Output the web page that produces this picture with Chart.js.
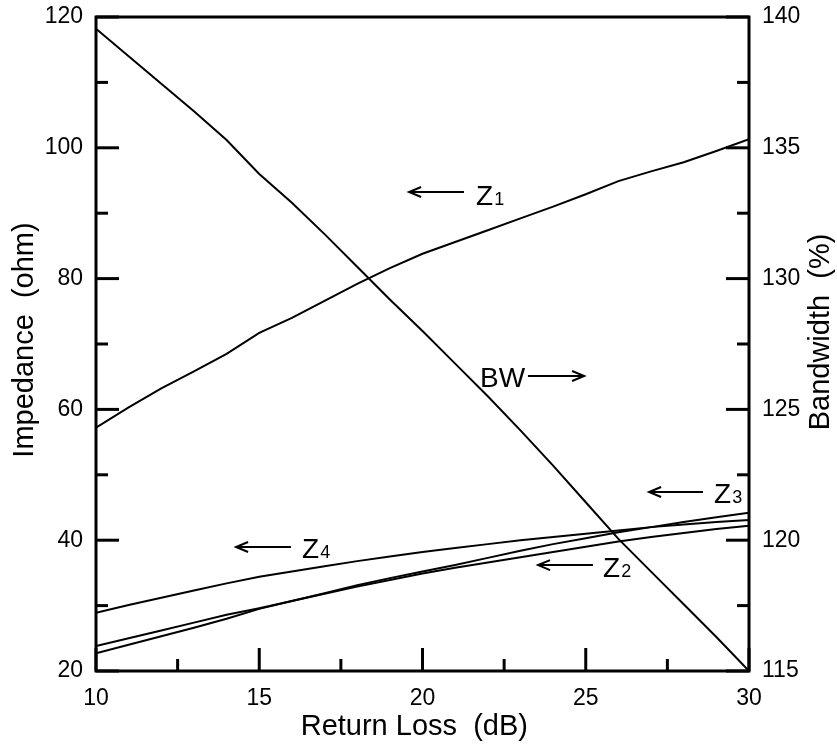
<!DOCTYPE html>
<html><head><meta charset="utf-8">
<script src="https://cdn.jsdelivr.net/npm/chart.js@4.4.0/dist/chart.umd.min.js"></script>
<style>html,body{margin:0;padding:0;background:#fff}#wrap{width:837px;height:747px}</style>
</head><body><div id="wrap"><canvas id="c" width="837" height="747"></canvas></div>
<script>
const returnLoss = [10,11,12,13,14,15,16,17,18,19,20,21,22,23,24,25,26,27,28,29,30];
const bandwidth  = [139.55,138.5,137.45,136.4,135.3,134.0,132.9,131.7,130.45,129.2,128.0,126.75,125.5,124.2,122.85,121.45,120.05,118.8,117.55,116.3,115.0];
const z1 = [57.2,60.3,63.2,65.8,68.5,71.7,74.0,76.6,79.2,81.6,83.8,85.6,87.4,89.2,91.0,92.9,94.9,96.4,97.8,99.5,101.3];
const z2 = [23.8,25.0,26.2,27.4,28.6,29.6,30.7,31.8,32.9,33.9,34.9,35.8,36.6,37.4,38.2,39.0,39.8,40.5,41.1,41.7,42.2];
const z3 = [22.7,24.0,25.3,26.6,28.0,29.5,30.7,31.9,33.1,34.2,35.2,36.2,37.3,38.4,39.4,40.3,41.2,42.0,42.8,43.5,44.2];
const z4 = [28.9,30.1,31.2,32.3,33.4,34.4,35.2,36.0,36.8,37.5,38.2,38.8,39.4,40.0,40.5,41.0,41.5,42.0,42.4,42.8,43.1];

const xMajorTicks = [10,15,20,25,30];
const xMinorTicks = [12.5,17.5,22.5,27.5];
const leftMajorTicks = [20,40,60,80,100,120];
const leftMinorTicks = [30,50,70,90,110];
const rightMajorTicks = [115,120,125,130,135,140];
const rightMinorTicks = [117.5,122.5,127.5,132.5,137.5];

const xTitle = 'Return Loss  (dB)';
const leftTitle = 'Impedance  (ohm)';
const rightTitle = 'Bandwidth  (%)';

// annotation labels: text, subscript, text anchor (x, y on left axis), arrow from (x1) to head (x2) at ay
const labels = [
  {text:'Z', sub:'1', tx:21.64, ty:91.25, ax1:21.27, ax2:19.59, ay:93.24},
  {text:'BW', sub:'', tx:21.76, ty:63.4, ax1:23.23, ax2:24.95, ay:65.1},
  {text:'Z', sub:'3', tx:28.93, ty:45.7, ax1:28.59, ax2:26.94, ay:47.37},
  {text:'Z', sub:'2', tx:25.53, ty:34.4, ax1:25.22, ax2:23.54, ay:36.2},
  {text:'Z', sub:'4', tx:16.31, ty:37.3, ax1:15.97, ax2:14.29, ay:38.96}
];

const FONT = "'Liberation Sans', Arial, Helvetica, sans-serif";
Chart.defaults.font.family = FONT;
Chart.defaults.color = '#000';

const pts = arr => returnLoss.map((x,i)=>({x:x, y:arr[i]}));
const ds = (arr, axis) => ({data: pts(arr), yAxisID: axis, borderColor:'#000', borderWidth:2, pointRadius:0, tension:0, fill:false});

const decor = {
  id:'decor',
  afterDraw(chart){
    const ctx = chart.ctx, ca = chart.chartArea;
    const sx = chart.scales.x, sy = chart.scales.y, sr = chart.scales.y1;
    ctx.save();
    ctx.strokeStyle = '#000'; ctx.lineWidth = 3; ctx.lineCap = 'butt';
    ctx.strokeRect(ca.left, ca.top, ca.right-ca.left, ca.bottom-ca.top);
    const tick = (x1,y1,x2,y2)=>{ctx.beginPath();ctx.moveTo(x1,y1);ctx.lineTo(x2,y2);ctx.stroke();};
    xMajorTicks.forEach(v=>{const p=sx.getPixelForValue(v); tick(p,ca.bottom,p,ca.bottom-23);});
    xMinorTicks.forEach(v=>{const p=sx.getPixelForValue(v); tick(p,ca.bottom,p,ca.bottom-12);});
    leftMajorTicks.forEach(v=>{const p=sy.getPixelForValue(v); tick(ca.left,p,ca.left+23,p);});
    leftMinorTicks.forEach(v=>{const p=sy.getPixelForValue(v); tick(ca.left,p,ca.left+12,p);});
    rightMajorTicks.forEach(v=>{const p=sr.getPixelForValue(v); tick(ca.right,p,ca.right-23,p);});
    rightMinorTicks.forEach(v=>{const p=sr.getPixelForValue(v); tick(ca.right,p,ca.right-12,p);});

    // axis titles
    ctx.fillStyle = '#000';
    ctx.font = '29px ' + FONT;
    ctx.textAlign = 'center'; ctx.textBaseline = 'alphabetic';
    ctx.fillText(xTitle, sx.getPixelForValue(19.75), ca.bottom + 64);
    ctx.save();
    ctx.translate(sy.left + 33, (ca.top+ca.bottom)/2 - 4);
    ctx.rotate(-Math.PI/2);
    ctx.fillText(leftTitle, 0, 0);
    ctx.restore();
    ctx.save();
    ctx.translate(sr.right - 8, (ca.top+ca.bottom)/2 - 12);
    ctx.rotate(-Math.PI/2);
    ctx.fillText(rightTitle, 0, 0);
    ctx.restore();

    // annotations
    ctx.lineWidth = 2;
    labels.forEach(l=>{
      const tx = sx.getPixelForValue(l.tx), ty = sy.getPixelForValue(l.ty);
      ctx.textAlign = 'left';
      ctx.font = '28px ' + FONT;
      ctx.fillText(l.text, tx, ty);
      const w = ctx.measureText(l.text).width;
      if (l.sub){ ctx.font = '18px ' + FONT; ctx.fillText(l.sub, tx + w + 1, ty); }
      const x1 = sx.getPixelForValue(l.ax1), x2 = sx.getPixelForValue(l.ax2), ay = sy.getPixelForValue(l.ay);
      const dir = x2 > x1 ? 1 : -1;
      tick(x1, ay, x2, ay);
      ctx.beginPath();
      ctx.moveTo(x2 - dir*12, ay - 5); ctx.lineTo(x2, ay); ctx.lineTo(x2 - dir*12, ay + 5);
      ctx.stroke();
    });
    ctx.restore();
  }
};

new Chart(document.getElementById('c'), {
  type:'line',
  data:{datasets:[ds(bandwidth,'y1'), ds(z1,'y'), ds(z2,'y'), ds(z3,'y'), ds(z4,'y')]},
  options:{
    responsive:false, devicePixelRatio:1, animation:false,
    layout:{padding:{top:17, left:0, right:0, bottom:0}},
    plugins:{legend:{display:false}, tooltip:{enabled:false}},
    scales:{
      x:{type:'linear', min:10, max:30, position:'bottom',
         grid:{display:false, drawTicks:false}, border:{display:false},
         afterBuildTicks:s=>{s.ticks = xMajorTicks.map(v=>({value:v}));},
         afterFit:s=>{s.height = 76; s.paddingLeft = 0; s.paddingRight = 0;},
         ticks:{font:{size:23}, padding:14, maxRotation:0, autoSkip:false}},
      y:{type:'linear', min:20, max:120, position:'left',
         grid:{display:false, drawTicks:false}, border:{display:false},
         afterBuildTicks:s=>{s.ticks = leftMajorTicks.map(v=>({value:v}));},
         afterFit:s=>{s.width = 96; s.paddingTop = 0; s.paddingBottom = 0;},
         ticks:{font:{size:23}, padding:13, autoSkip:false}},
      y1:{type:'linear', min:115, max:140, position:'right',
         grid:{display:false, drawTicks:false}, border:{display:false},
         afterBuildTicks:s=>{s.ticks = rightMajorTicks.map(v=>({value:v}));},
         afterFit:s=>{s.width = 88; s.paddingTop = 0; s.paddingBottom = 0;},
         ticks:{font:{size:23}, padding:13, autoSkip:false}}
    }
  },
  plugins:[decor]
});
</script></body></html>
